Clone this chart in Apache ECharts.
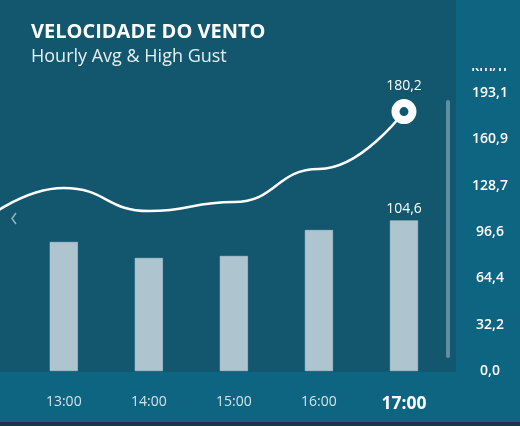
<!DOCTYPE html>
<html>
<head>
<meta charset="utf-8">
<script src="https://cdn.jsdelivr.net/npm/echarts@6/dist/echarts.min.js"></script>
<style>html,body{margin:0;padding:0;background:#0e6582;}#c{width:520px;height:426px;}</style>
</head>
<body>
<div id="c"></div>
<script>
const categories = ['12:00', '13:00', '14:00', '15:00', '16:00', '17:00'];
const avgValues = [null, 89.6, 78.5, 79.9, 97.9, 104.6];
const gustValues = [102.0, 127.1, 111.1, 117.4, 140.3, 180.2];
const yTickLabels = ['0,0', '32,2', '64,4', '96,6', '128,7', '160,9', '193,1'];
const yMax = 193.1;
const titleText = 'VELOCIDADE DO VENTO';
const subtitleText = 'Hourly Avg & High Gust';
const unitText = 'km/h';
const highlightCat = '17:00';

const fmt = v => v.toFixed(1).replace('.', ',');
const lastIdx = categories.length - 1;
const interval = yMax / (yTickLabels.length - 1);
const labelIdx = categories.map((c, i) => i).filter(i => i >= 1);

const panel = '#13576f';
const strip = '#0e6582';
const FONT = '"Open Sans", "Noto Sans", sans-serif';

const chart = echarts.init(document.getElementById('c'));
chart.setOption({
  backgroundColor: strip,
  animation: false,
  graphic: [
    { type: 'rect', z: -10, shape: { x: 0, y: 0, width: 456, height: 372 }, style: { fill: panel } },
    { type: 'rect', z: -10, shape: { x: 0, y: 422, width: 520, height: 4 }, style: { fill: '#1e3545' } },
    { type: 'rect', z: 50, shape: { x: 446, y: 100, width: 4, height: 258, r: 2 }, style: { fill: '#5f8ea2' } },
    { type: 'polyline', z: 50, shape: { points: [[16, 213], [12, 218.5], [16, 224]] }, style: { stroke: '#8fb3c3', lineWidth: 1.5, fill: null } },
    { type: 'text', z: 50, left: 31, top: 22, style: { text: titleText, fill: '#ffffff', font: 'bold 20px ' + FONT } },
    { type: 'text', z: 50, left: 31, top: 48, style: { text: subtitleText, fill: '#e6eff3', font: '18px ' + FONT } },
    { type: 'text', z: 50, x: 489, y: 67, style: { text: unitText, fill: '#ffffff', font: '600 14px ' + FONT, align: 'center', verticalAlign: 'middle' } },
    { type: 'rect', z: 60, shape: { x: 456, y: 0, width: 64, height: 68 }, style: { fill: strip } }
  ],
  grid: { left: 0, right: 73.5, top: 93, bottom: 55 },
  xAxis: {
    type: 'value',
    min: 0.25,
    max: 5.5,
    axisLine: { show: false },
    axisTick: { show: false },
    splitLine: { show: false },
    axisLabel: {
      margin: 24,
      customValues: labelIdx,
      formatter: v => {
        const c = categories[Math.round(v)];
        return c === highlightCat ? '{b|' + c + '}' : '{a|' + c + '}';
      },
      rich: {
        a: { color: '#d3e3ea', fontSize: 14, fontFamily: FONT },
        b: { color: '#ffffff', fontSize: 17.5, fontWeight: 'bold', fontFamily: FONT }
      }
    }
  },
  yAxis: {
    type: 'value',
    position: 'right',
    min: 0,
    max: yMax,
    interval: interval,
    axisLine: { show: false },
    axisTick: { show: false },
    splitLine: { show: false },
    axisLabel: {
      margin: 43.5,
      align: 'center',
      color: '#ffffff',
      fontSize: 14,
      fontWeight: 600,
      fontFamily: FONT,
      formatter: v => yTickLabels[Math.round(v / interval)]
    }
  },
  series: [
    {
      type: 'bar',
      barWidth: 28,
      itemStyle: { color: '#aec5cf', borderColor: '#c2d5dd', borderWidth: 0.5 },
      data: avgValues.map((v, i) => v === null ? null : (i === lastIdx ? {
        value: [i, v],
        label: { show: true, position: 'top', distance: 4, formatter: fmt(v), color: '#ffffff', fontSize: 14, fontFamily: FONT }
      } : [i, v])).filter(d => d !== null)
    },
    {
      type: 'line',
      smooth: 0.5,
      smoothMonotone: 'x',
      symbol: 'none',
      lineStyle: { color: '#ffffff', width: 2.5 },
      z: 5,
      data: gustValues.map((v, i) => i === lastIdx ? {
        value: [i, v],
        symbol: 'circle',
        symbolSize: 17,
        itemStyle: { color: panel, borderColor: '#ffffff', borderWidth: 8 },
        label: { show: true, position: 'top', distance: 6, formatter: fmt(v), color: '#ffffff', fontSize: 14, fontFamily: FONT }
      } : [i, v])
    }
  ]
});
</script>
</body>
</html>
